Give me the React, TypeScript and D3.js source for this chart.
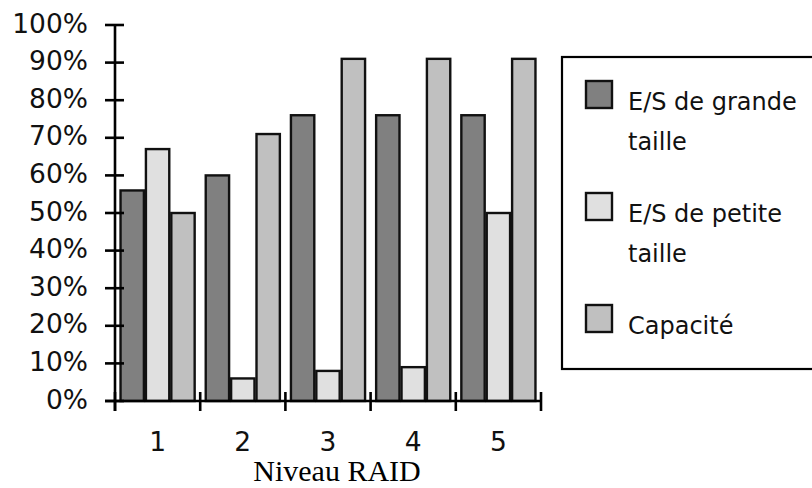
import React from "react";
import * as d3 from "d3";

const categories = ["1", "2", "3", "4", "5"];
const seriesNames = ["E/S de grande taille", "E/S de petite taille", "Capacité"];
const grandeValues = [56, 60, 76, 76, 76];
const petiteValues = [67, 6, 8, 9, 50];
const capaciteValues = [50, 71, 91, 91, 91];
const yTicks = [0, 10, 20, 30, 40, 50, 60, 70, 80, 90, 100];
const seriesColors = ["#808080", "#e0e0e0", "#c0c0c0"];
const legendLines = [["E/S de grande", "taille"], ["E/S de petite", "taille"], ["Capacité"]];
const xTitle = "Niveau RAID";

const W = 812;
const H = 488;
const left = 115;
const right = 541;
const top = 25;
const bottom = 401;

export default function App() {
  const series = [grandeValues, petiteValues, capaciteValues];
  const y = d3.scaleLinear().domain([0, 100]).range([bottom, top]);
  const pIn = 0.13;
  const x = d3.scaleBand<string>().domain(categories).range([left, right]).paddingInner(pIn).paddingOuter(pIn / 2);
  const inner = d3.scaleBand<number>().domain([0, 1, 2]).range([0, x.bandwidth()]).paddingInner(0.08).paddingOuter(0);
  const step = x.step();
  const boundaries = categories.map((c) => (x(c) as number) - (step * pIn) / 2);
  boundaries.push(right);
  const sans = "'DejaVu Sans', Verdana, sans-serif";
  const axisW = 2.6;

  return (
    <svg width={W} height={H} style={{ position: "absolute", left: 0, top: 0, background: "#fff" }}>
      {/* bars */}
      {categories.map((c, ci) =>
        series.map((vals, si) => (
          <rect
            key={c + "-" + si}
            x={(x(c) as number) + (inner(si) as number)}
            y={y(vals[ci])}
            width={inner.bandwidth()}
            height={bottom - y(vals[ci])}
            fill={seriesColors[si]}
            stroke="#111"
            strokeWidth={2.4}
          />
        ))
      )}
      {/* y axis */}
      <line x1={left} x2={left} y1={top} y2={bottom + 10} stroke="#000" strokeWidth={axisW} />
      {yTicks.map((t) => (
        <g key={t}>
          <line x1={left - 10} x2={left + 9} y1={y(t)} y2={y(t)} stroke="#000" strokeWidth={axisW} />
          <text x={88} y={y(t) + 7.5} textAnchor="end" fontFamily={sans} fontSize={26.5} fill="#111">
            {t + "%"}
          </text>
        </g>
      ))}
      {/* x axis */}
      <line x1={left - 10} x2={right} y1={bottom} y2={bottom} stroke="#000" strokeWidth={axisW} />
      {boundaries.map((b, i) => (
        <line key={i} x1={b} x2={b} y1={bottom - 9} y2={bottom + 10} stroke="#000" strokeWidth={axisW} />
      ))}
      {categories.map((c) => (
        <text
          key={c}
          x={(x(c) as number) + x.bandwidth() / 2}
          y={451}
          textAnchor="middle"
          fontFamily={sans}
          fontSize={26.5}
          fill="#111"
        >
          {c}
        </text>
      ))}
      <text x={(left + right) / 2 + 9} y={481} textAnchor="middle" fontFamily="'Liberation Serif', 'Times New Roman', serif" fontSize={30} fill="#000">
        {xTitle}
      </text>
      {/* legend */}
      <rect x={562} y={57} width={280} height={312} fill="#fff" stroke="#000" strokeWidth={2.2} />
      {seriesNames.map((name, i) => {
        const sy = 81 + i * 112;
        return (
          <g key={name}>
            <rect x={586} y={sy} width={26} height={27} fill={seriesColors[i]} stroke="#111" strokeWidth={2.4} />
            {legendLines[i].map((ln, li) => (
              <text key={li} x={628} y={sy + 29 + li * 40} fontFamily={sans} fontSize={24} fill="#111">
                {ln}
              </text>
            ))}
          </g>
        );
      })}
    </svg>
  );
}
